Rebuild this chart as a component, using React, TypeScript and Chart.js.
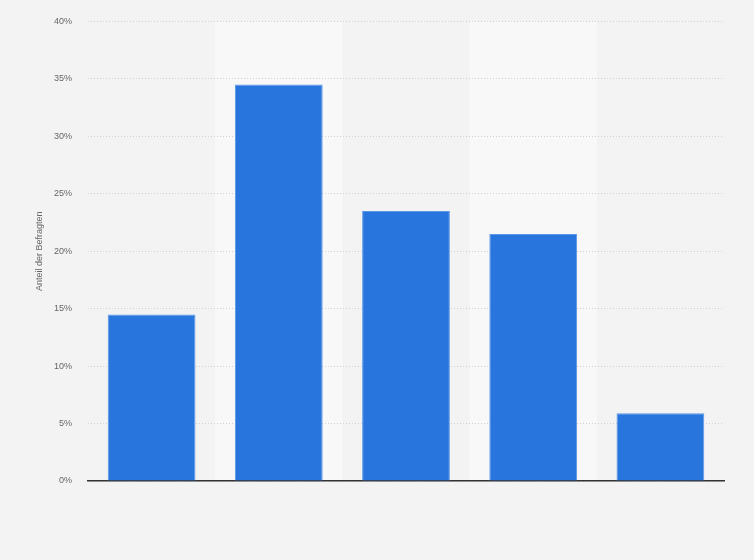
import { useEffect, useRef } from 'react'
import { Chart, registerables } from 'chart.js'

Chart.register(...registerables)

const categories = ['', '', '', '', '']
const shares = [14.5, 34.5, 23.5, 21.5, 5.9]
const yTicks = [0, 5, 10, 15, 20, 25, 30, 35, 40]

const bandPlugin = {
  id: 'bands',
  beforeDraw(chart: any) {
    const { ctx, chartArea, scales } = chart
    const x = scales.x
    const step = chartArea.width / categories.length
    ctx.save()
    ctx.fillStyle = '#f3f3f3'
    ctx.fillRect(0, 0, chart.width, chart.height)
    ctx.fillStyle = '#f8f8f8'
    categories.forEach((_, i) => {
      if (i % 2 === 1) {
        const cx = x.getPixelForValue(i)
        ctx.fillRect(cx - step / 2, chartArea.top, step, chartArea.bottom - chartArea.top)
      }
    })
    ctx.restore()
  },
}

export default function App() {
  const ref = useRef<HTMLCanvasElement>(null)
  const chartRef = useRef<Chart | null>(null)

  useEffect(() => {
    if (!ref.current) return
    if (chartRef.current) chartRef.current.destroy()

    chartRef.current = new Chart(ref.current, {
      type: 'bar',
      data: {
        labels: categories,
        datasets: [
          {
            data: shares,
            backgroundColor: '#2876dd',
            borderColor: '#5b97e6',
            borderWidth: 1,
            barPercentage: 0.69,
            categoryPercentage: 1,
          },
        ],
      },
      plugins: [bandPlugin],
      options: {
        animation: false,
        responsive: true,
        maintainAspectRatio: false,
        layout: { padding: { left: 30, right: 30, top: 20, bottom: 79 } },
        plugins: { legend: { display: false }, tooltip: { enabled: false } },
        scales: {
          x: {
            grid: { display: false },
            ticks: { display: false },
            border: { display: true, color: '#333', width: 1.5 },
            afterFit: (s: any) => { s.height = 0 },
          },
          y: {
            min: 0,
            max: 40,
            afterFit: (s: any) => { s.width = 58 },
            afterBuildTicks: (s: any) => { s.ticks = yTicks.map((v) => ({ value: v })) },
            grid: { color: '#d0d0d0', drawTicks: false, lineWidth: 1 },
            border: { display: false, dash: [1, 2] },
            ticks: {
              color: '#666',
              padding: 16,
              font: { family: 'Liberation Sans', size: 9 },
              callback: (v: any) => v + '%',
            },
            title: {
              display: true,
              text: 'Anteil der Befragten',
              color: '#666',
              font: { family: 'Liberation Sans', size: 9 },
            },
          },
        },
      },
    })

    return () => { chartRef.current?.destroy() }
  }, [])

  return (
    <div style={{ position: 'fixed', left: 0, top: 0, width: 754, height: 560, background: '#f3f3f3' }}>
      <canvas ref={ref} />
    </div>
  )
}
